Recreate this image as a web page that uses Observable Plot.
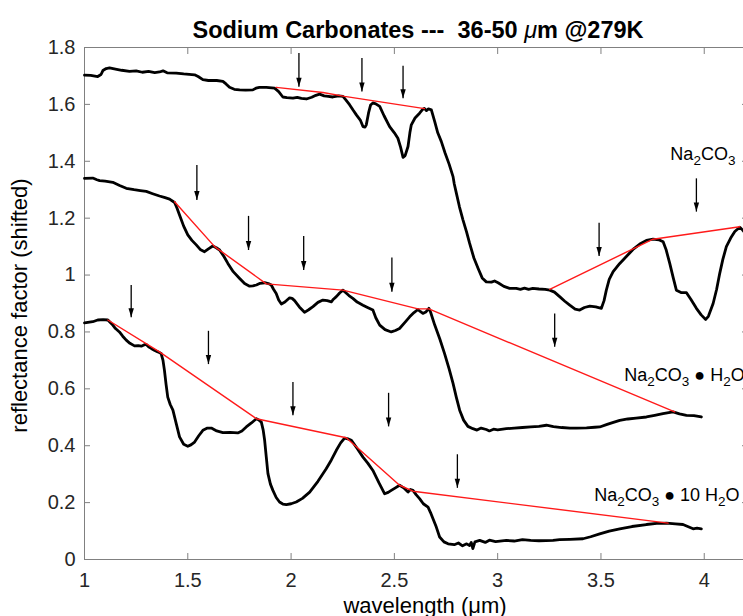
<!DOCTYPE html>
<html>
<head>
<meta charset="utf-8">
<script src="https://cdn.jsdelivr.net/npm/d3@7"></script>
<script src="https://cdn.jsdelivr.net/npm/@observablehq/plot@0.6"></script>
<style>
  body { margin: 0; background: #fff; }
  #chart { position: relative; width: 743px; height: 616px; overflow: hidden; }
  #chart svg { display: block; max-width: none; }
</style>
</head>
<body>
<div id="chart"></div>
<script>
// ---------- DATA ----------
const titleText = "Sodium Carbonates ---  36-50 \u03bcm @279K";
const xLabelText = "wavelength (\u03bcm)";
const yLabelText = "reflectance factor (shifted)";

const xTickValues = [1, 1.5, 2, 2.5, 3, 3.5, 4];
const xTickLabels = ["1", "1.5", "2", "2.5", "3", "3.5", "4"];
const yTickValues = [0, 0.2, 0.4, 0.6, 0.8, 1, 1.2, 1.4, 1.6, 1.8];
const yTickLabels = ["0", "0.2", "0.4", "0.6", "0.8", "1", "1.2", "1.4", "1.6", "1.8"];

// Na2CO3 (top spectrum)
const anhWl = [1.00,1.03,1.064,1.08,1.089,1.105,1.121,1.15,1.18,1.218,1.25,1.28,1.31,1.34,1.363,1.38,1.40,1.444,1.48,1.533,1.55,1.573,1.60,1.64,1.670,1.685,1.702,1.725,1.751,1.78,1.815,1.83,1.847,1.88,1.92,1.94,1.960,1.98,2.009,2.03,2.05,2.074,2.10,2.12,2.138,2.16,2.18,2.202,2.23,2.251,2.265,2.283,2.30,2.316,2.335,2.348,2.358,2.364,2.375,2.385,2.396,2.41,2.429,2.45,2.477,2.50,2.517,2.53,2.542,2.552,2.566,2.575,2.582,2.60,2.622,2.638,2.645,2.655,2.665,2.679,2.695,2.71,2.727,2.745,2.765,2.784,2.79,2.800,2.815,2.832,2.85,2.864,2.885,2.905,2.925,2.945,2.97,2.985,3.002,3.03,3.058,3.09,3.11,3.13,3.15,3.17,3.20,3.23,3.252,3.275,3.300,3.325,3.349,3.375,3.397,3.42,3.446,3.475,3.502,3.515,3.526,3.54,3.559,3.59,3.623,3.655,3.688,3.72,3.752,3.78,3.801,3.815,3.833,3.85,3.865,3.89,3.914,3.935,3.962,3.985,4.007,4.02,4.043,4.06,4.075,4.09,4.107,4.128,4.148,4.172,4.186,4.195];
const anhR = [1.703,1.702,1.698,1.705,1.719,1.726,1.728,1.724,1.720,1.716,1.718,1.713,1.716,1.712,1.714,1.718,1.711,1.710,1.707,1.704,1.698,1.687,1.684,1.684,1.681,1.672,1.660,1.653,1.651,1.650,1.651,1.657,1.660,1.660,1.657,1.645,1.626,1.624,1.622,1.625,1.621,1.619,1.625,1.632,1.636,1.630,1.628,1.626,1.630,1.628,1.616,1.599,1.580,1.563,1.545,1.522,1.520,1.528,1.570,1.598,1.605,1.602,1.593,1.560,1.522,1.500,1.481,1.450,1.414,1.420,1.452,1.500,1.528,1.552,1.569,1.583,1.586,1.578,1.584,1.581,1.540,1.500,1.470,1.430,1.390,1.346,1.320,1.288,1.240,1.194,1.150,1.112,1.060,1.024,0.990,0.976,0.975,0.979,0.973,0.960,0.953,0.953,0.950,0.954,0.950,0.953,0.951,0.950,0.947,0.940,0.924,0.908,0.894,0.880,0.877,0.886,0.891,0.888,0.883,0.910,0.947,0.985,1.012,1.040,1.065,1.090,1.109,1.122,1.126,1.124,1.117,1.090,1.041,0.990,0.947,0.938,0.938,0.915,0.883,0.860,0.844,0.855,0.900,0.950,1.006,1.055,1.100,1.130,1.153,1.168,1.158,1.150];

// Na2CO3 • H2O (middle spectrum)
const monoWl = [1.00,1.040,1.060,1.073,1.10,1.137,1.17,1.202,1.24,1.27,1.299,1.33,1.363,1.39,1.412,1.436,1.448,1.460,1.48,1.500,1.52,1.541,1.56,1.581,1.60,1.621,1.638,1.654,1.675,1.694,1.72,1.751,1.775,1.799,1.815,1.832,1.85,1.872,1.89,1.904,1.915,1.928,1.940,1.953,1.97,1.993,2.005,2.017,2.04,2.065,2.085,2.106,2.13,2.154,2.175,2.195,2.205,2.219,2.235,2.251,2.265,2.28,2.299,2.32,2.348,2.37,2.396,2.41,2.429,2.455,2.485,2.505,2.525,2.55,2.574,2.595,2.614,2.625,2.638,2.652,2.667,2.675,2.695,2.72,2.743,2.765,2.784,2.80,2.816,2.835,2.856,2.88,2.90,2.92,2.945,2.96,2.98,3.00,3.042,3.08,3.12,3.16,3.20,3.236,3.27,3.31,3.35,3.381,3.43,3.47,3.494,3.53,3.56,3.591,3.63,3.67,3.720,3.76,3.80,3.849,3.88,3.914,3.95,3.986];
const monoR = [1.340,1.341,1.335,1.332,1.330,1.326,1.315,1.305,1.300,1.297,1.294,1.286,1.278,1.272,1.267,1.255,1.235,1.211,1.172,1.141,1.122,1.106,1.090,1.082,1.092,1.102,1.096,1.088,1.065,1.041,1.012,0.988,0.970,0.961,0.962,0.965,0.971,0.973,0.970,0.965,0.950,0.935,0.912,0.898,0.905,0.920,0.918,0.910,0.888,0.869,0.878,0.889,0.904,0.912,0.910,0.906,0.915,0.924,0.937,0.947,0.938,0.928,0.918,0.905,0.894,0.886,0.877,0.850,0.824,0.808,0.800,0.805,0.812,0.833,0.853,0.868,0.879,0.872,0.865,0.870,0.883,0.870,0.825,0.775,0.724,0.670,0.619,0.570,0.525,0.490,0.468,0.460,0.455,0.462,0.457,0.452,0.458,0.456,0.460,0.462,0.464,0.466,0.468,0.472,0.467,0.464,0.462,0.462,0.463,0.465,0.466,0.475,0.482,0.489,0.494,0.497,0.501,0.507,0.513,0.519,0.512,0.507,0.506,0.501];

// Na2CO3 • 10 H2O (bottom spectrum)
const decaWl = [1.00,1.040,1.064,1.09,1.113,1.125,1.137,1.150,1.169,1.185,1.202,1.22,1.242,1.260,1.275,1.290,1.299,1.310,1.323,1.340,1.355,1.371,1.380,1.387,1.395,1.403,1.415,1.428,1.445,1.460,1.480,1.500,1.515,1.533,1.553,1.573,1.595,1.614,1.640,1.670,1.705,1.742,1.762,1.783,1.808,1.832,1.845,1.856,1.865,1.872,1.880,1.888,1.900,1.912,1.928,1.944,1.960,1.977,2.000,2.025,2.055,2.090,2.130,2.170,2.195,2.219,2.240,2.259,2.275,2.292,2.320,2.348,2.372,2.396,2.425,2.453,2.470,2.485,2.505,2.525,2.545,2.566,2.578,2.590,2.605,2.622,2.640,2.663,2.675,2.687,2.703,2.719,2.740,2.760,2.79,2.81,2.83,2.85,2.864,2.872,2.880,2.89,2.913,2.94,2.96,2.99,3.042,3.08,3.12,3.16,3.20,3.268,3.30,3.35,3.413,3.45,3.494,3.54,3.591,3.65,3.720,3.77,3.817,3.86,3.897,3.92,3.946,3.965,3.986];
const decaR = [0.832,0.836,0.842,0.843,0.842,0.833,0.824,0.812,0.800,0.785,0.771,0.760,0.751,0.752,0.750,0.755,0.756,0.748,0.742,0.735,0.730,0.724,0.700,0.665,0.615,0.571,0.545,0.525,0.475,0.431,0.405,0.398,0.403,0.413,0.435,0.454,0.462,0.462,0.452,0.446,0.447,0.445,0.452,0.466,0.480,0.495,0.490,0.483,0.455,0.419,0.360,0.302,0.265,0.243,0.218,0.202,0.195,0.193,0.196,0.202,0.215,0.237,0.275,0.319,0.350,0.384,0.410,0.427,0.424,0.419,0.390,0.360,0.338,0.313,0.270,0.231,0.236,0.243,0.252,0.261,0.252,0.237,0.246,0.243,0.228,0.214,0.196,0.184,0.165,0.143,0.114,0.079,0.062,0.055,0.052,0.058,0.048,0.055,0.049,0.060,0.038,0.062,0.067,0.060,0.068,0.063,0.067,0.065,0.070,0.067,0.066,0.067,0.070,0.071,0.073,0.080,0.090,0.100,0.108,0.116,0.123,0.127,0.128,0.125,0.123,0.116,0.108,0.110,0.108];

// continuum (red) lines: segment id, wavelength, reflectance
const contSeg = ["a","a","a","a","b","b","b","m","m","m","m","m","m","m","d","d","d","d","d","d","d"];
const contWl  = [1.928,2.154,2.259,2.646, 3.252,3.752,4.172, 1.436,1.630,1.880,2.251,2.614,2.667,3.857, 1.113,1.363,1.832,2.267,2.525,2.590,3.825];
const contR   = [1.660,1.642,1.628,1.585, 0.950,1.126,1.170, 1.258,1.100,0.969,0.947,0.881,0.881,0.519, 0.842,0.730,0.495,0.428,0.261,0.240,0.128];

// absorption-band arrows: wavelength, start (top) and tip reflectance
const arrowWl  = [2.038,2.343,2.542, 3.491,3.962, 1.544,1.794,2.061,2.488,3.276, 1.226,1.600,2.009,2.472,2.805];
const arrowTop = [1.781,1.763,1.736, 1.184,1.340, 1.387,1.208,1.137,1.062,0.865, 0.965,0.804,0.624,0.586,0.370];
const arrowTip = [1.662,1.645,1.622, 1.067,1.223, 1.264,1.088,1.018,0.941,0.748, 0.852,0.687,0.507,0.468,0.252];

// spectrum labels
const labelText = ["Na2CO3", "Na2CO3 \u25cf H2O", "Na2CO3 \u25cf 10 H2O"];
const labelWl   = [3.836, 3.613, 3.467];
const labelR    = [1.426, 0.648, 0.225];

// ---------- BUILD ----------
const rows = (wl, r, name) => wl.map((x, i) => ({x, y: r[i], name}));
const spectra = [
  ...rows(anhWl, anhR, "Na2CO3"),
  ...rows(monoWl, monoR, "Na2CO3 H2O"),
  ...rows(decaWl, decaR, "Na2CO3 10H2O")
];
const cont = contWl.map((x, i) => ({x, y: contR[i], seg: contSeg[i]}));
const arrows = arrowWl.map((x, i) => ({x, top: arrowTop[i], tip: arrowTip[i]}));
const labels = labelText.map((t, i) => ({t, x: labelWl[i], y: labelR[i]}));

const FONT = "'Liberation Sans', Arial, Helvetica, sans-serif";
const AX = "#808080";
const TXT = "#262626";

const arrowHead = {
  draw(context) {
    context.moveTo(0, 0);
    context.lineTo(-2.7, -9);
    context.lineTo(2.7, -9);
    context.closePath();
  }
};

const fmtX = d => xTickLabels[xTickValues.indexOf(d)];
const fmtY = d => yTickLabels[yTickValues.findIndex(v => Math.abs(v - d) < 1e-9)];

const plot = Plot.plot({
  width: 743,
  height: 616,
  marginLeft: 84,
  marginRight: 0,
  marginTop: 47,
  marginBottom: 57,
  style: {fontFamily: FONT, background: "#fff", color: TXT},
  x: {domain: [1, 4.19]},
  y: {domain: [0, 1.8]},
  marks: [
    // frame (left, top, bottom)
    Plot.ruleY([yTickValues[0], yTickValues[yTickValues.length - 1]], {stroke: AX, strokeWidth: 1}),
    Plot.ruleX([xTickValues[0]], {stroke: AX, strokeWidth: 1}),
    // inward ticks
    Plot.axisX({ticks: xTickValues, anchor: "bottom", fill: "none", stroke: AX, tickSize: 6, dy: -6, label: null}),
    Plot.axisX({ticks: xTickValues, anchor: "top", fill: "none", stroke: AX, tickSize: 6, dy: 6, label: null}),
    Plot.axisY({ticks: yTickValues, anchor: "left", fill: "none", stroke: AX, tickSize: 6, dx: 6, label: null}),
    Plot.axisY({ticks: yTickValues, anchor: "right", fill: "none", stroke: AX, tickSize: 6, dx: -2, label: null}),
    // tick labels
    Plot.axisX({ticks: xTickValues, tickFormat: fmtX, anchor: "bottom", tickSize: 0, tickPadding: 13, fontSize: 20, fill: TXT, label: null}),
    Plot.axisY({ticks: yTickValues, tickFormat: fmtY, anchor: "left", tickSize: 0, tickPadding: 9, fontSize: 20, fill: TXT, label: null}),
    // spectra
    Plot.line(spectra, {x: "x", y: "y", z: "name", stroke: "black", strokeWidth: 2.8, curve: "linear"}),
    // continuum lines
    Plot.line(cont, {x: "x", y: "y", z: "seg", stroke: "#ff1a1a", strokeWidth: 1.4}),
    // arrows
    Plot.link(arrows, {x1: "x", x2: "x", y1: "top", y2: "tip", stroke: "black", strokeWidth: 1.3}),
    Plot.dot(arrows, {x: "x", y: "tip", symbol: arrowHead, fill: "black", stroke: "none", r: 3}),
    // spectrum labels
    Plot.text(labels, {x: "x", y: "y", text: "t", textAnchor: "start", fontSize: 18, fill: "black"}),
    // title and axis labels
    Plot.text([titleText], {frameAnchor: "top", textAnchor: "middle", dy: -26, dx: 4, fontSize: 23.5, fontWeight: "bold", fill: "black"}),
    Plot.text([xLabelText], {frameAnchor: "bottom", textAnchor: "middle", dy: 53, dx: 11, fontSize: 22, fill: "black"}),
    Plot.text([yLabelText], {frameAnchor: "left", textAnchor: "middle", rotate: -90, dx: -65, dy: 2, fontSize: 22, fill: "black"})
  ]
});

document.getElementById("chart").appendChild(plot);

// chemical-formula subscripts
d3.select(plot).selectAll("text").filter(function () { return labelText.includes(this.textContent); }).each(function () {
  const s = this.textContent;
  const runs = [];
  let prev = "";
  let prevSub = false;
  for (const c of s) {
    const sub = /\d/.test(c) && (/[A-Za-z]/.test(prev) || (prevSub && /\d/.test(prev)));
    if (runs.length && runs[runs.length - 1].sub === sub) runs[runs.length - 1].t += c;
    else runs.push({t: c, sub});
    prev = c; prevSub = sub;
  }
  this.textContent = "";
  let shifted = false;
  for (const r of runs) {
    const ts = d3.select(this).append("tspan").text(r.t);
    if (r.sub) { ts.attr("font-size", "13.5px").attr("dy", 5); shifted = true; }
    else if (shifted) { ts.attr("dy", -5); shifted = false; }
  }
});

// italic mu in title
d3.select(plot).selectAll("text").filter(function () { return this.textContent === titleText; }).each(function () {
  const parts = this.textContent.split("\u03bc");
  this.textContent = "";
  parts.forEach((p, i) => {
    if (i > 0) d3.select(this).append("tspan").attr("font-style", "italic").attr("font-weight", "normal").text("\u03bc");
    d3.select(this).append("tspan").text(p);
  });
});
</script>
</body>
</html>
